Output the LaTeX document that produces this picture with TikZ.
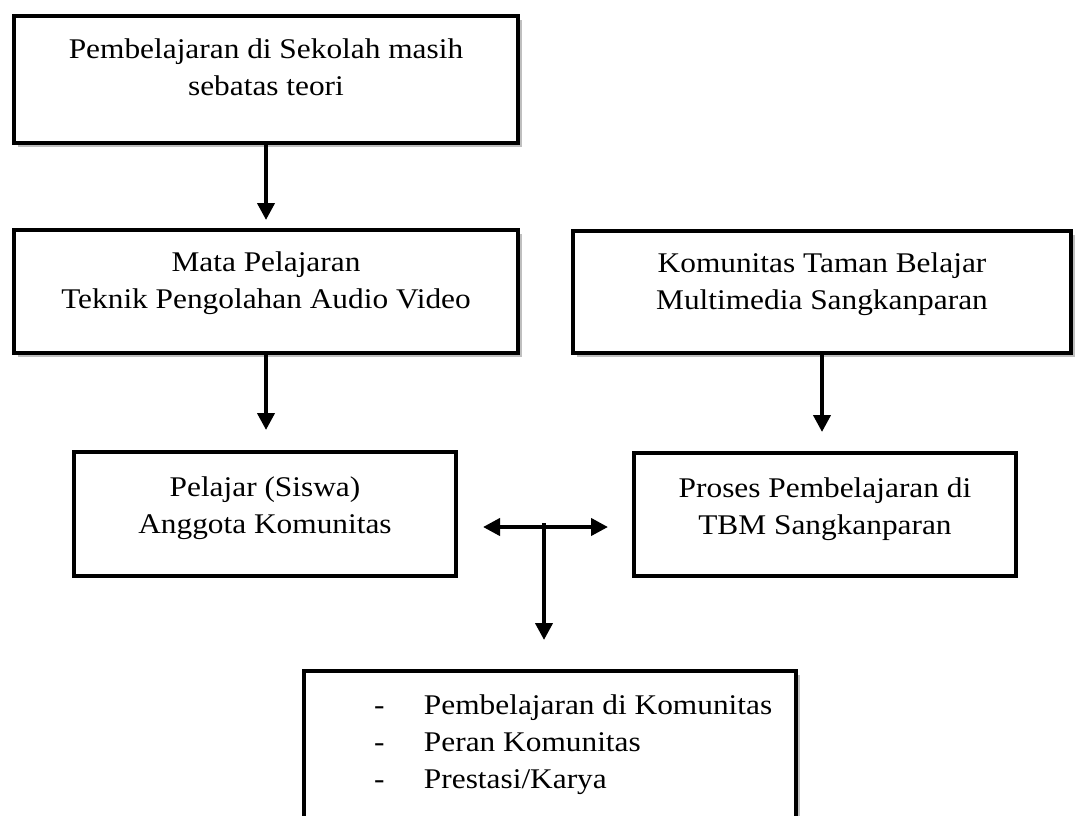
\documentclass[tikz,border=0pt]{standalone}
\usepackage{fontspec}
\setmainfont[FakeStretch=1.1]{Liberation Serif}
\usetikzlibrary{arrows.meta,shadows}

\begin{document}
\begin{tikzpicture}[x=1pt,y=-1pt,line width=4pt,
	kotak/.style={draw,fill=white,rectangle,inner sep=0pt},
	bayang/.style={kotak,drop shadow={shadow xshift=4pt,shadow yshift=-4pt,fill=black,opacity=0.25}},
	isi/.style={align=center,inner sep=0pt,anchor=north,font=\fontsize{28.5}{37}\selectfont},
	panah/.style={-{Triangle[length=17pt,width=17pt]}}]
	\useasboundingbox (0,0) rectangle (1076,816);
	%BOXES
	\node[bayang,minimum width=504pt,minimum height=127pt] (sekolah) at (266,79.5) {};
	\node[bayang,minimum width=504pt,minimum height=123pt] (mapel) at (266,291.5) {};
	\node[bayang,minimum width=498pt,minimum height=122pt] (tbm) at (822,292) {};
	\node[kotak,minimum width=382pt,minimum height=124pt] (siswa) at (265,514) {};
	\node[kotak,minimum width=382pt,minimum height=123pt] (proses) at (825,514.5) {};
	\node[bayang,minimum width=492pt,minimum height=167pt] (hasil) at (550,754.5) {};
	
	%TEXTS
	\node[isi] (t-sekolah) at ([yshift=-22.5pt]sekolah.north) {Pembelajaran di Sekolah masih\\sebatas teori};
	\node[isi] (t-mapel) at ([yshift=-21.5pt]mapel.north) {Mata Pelajaran\\Teknik Pengolahan Audio Video};
	\node[isi] (t-tbm) at ([yshift=-21.5pt]tbm.north) {Komunitas Taman Belajar\\Multimedia Sangkanparan};
	\node[isi] (t-siswa) at ([yshift=-24.5pt]siswa.north) {Pelajar (Siswa)\\Anggota Komunitas};
	\node[isi] (t-proses) at ([yshift=-24.5pt]proses.north) {Proses Pembelajaran di\\TBM Sangkanparan};
	\node[isi,align=left,anchor=north west] (t-hasil) at (372,692.5) {\makebox[50pt][l]{-}Pembelajaran di Komunitas\\\makebox[50pt][l]{-}Peran Komunitas\\\makebox[50pt][l]{-}Prestasi/Karya};
	
	%ARROWS
	\coordinate (simpang) at (544,527);
	\draw[panah,shorten >=8pt] (sekolah.south) -- (mapel.north);
	\draw[panah,shorten >=20pt] (mapel.south) -- (siswa.north -| mapel.south);
	\draw[panah,shorten >=19pt] (tbm.south) -- (proses.north -| tbm.south);
	\draw[{Triangle[length=17pt,width=17pt]}-{Triangle[length=17pt,width=17pt]},shorten <=25pt,shorten >=24pt] (siswa.east |- simpang) -- (proses.west |- simpang);
	\draw[panah,shorten >=29pt] ([yshift=4pt]simpang) -- (simpang |- hasil.north);
\end{tikzpicture}
\end{document}
